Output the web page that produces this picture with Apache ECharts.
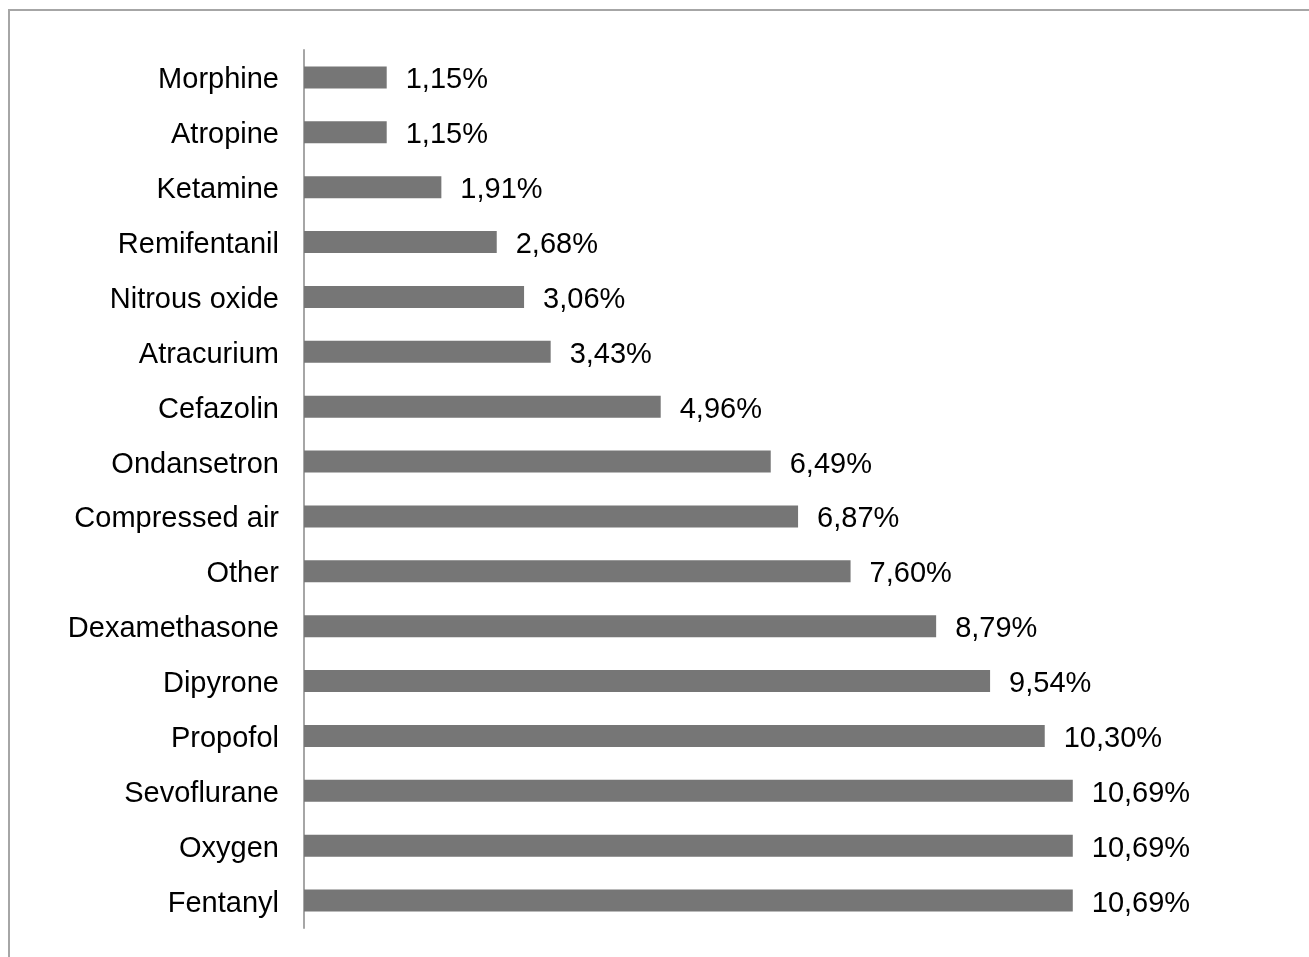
<!DOCTYPE html>
<html>
<head>
<meta charset="utf-8">
<script src="https://cdn.jsdelivr.net/npm/echarts@6/dist/echarts.min.js"></script>
<style>
    html, body { margin: 0; padding: 0; background: #fff; }
    #main { width: 1309px; height: 957px; }
</style>
</head>
<body>
<div id="main"></div>
<script>
    // categories listed from bottom to top
    var drugs = ['Fentanyl', 'Oxygen', 'Sevoflurane', 'Propofol', 'Dipyrone', 'Dexamethasone', 'Other',
        'Compressed air', 'Ondansetron', 'Cefazolin', 'Atracurium', 'Nitrous oxide', 'Remifentanil',
        'Ketamine', 'Atropine', 'Morphine'];
    var shares = [10.69, 10.69, 10.69, 10.30, 9.54, 8.79, 7.60, 6.87, 6.49, 4.96, 3.43, 3.06, 2.68, 1.91, 1.15, 1.15];

    var txt = {
        color: '#000',
        fontSize: 29,
        fontFamily: 'Liberation Sans, Arial, sans-serif',
        padding: [6, 0, 0, 0]
    };

    var myChart = echarts.init(document.getElementById('main'));
    var option = {
        animation: false,
        backgroundColor: '#fff',
        graphic: [{
            type: 'rect',
            shape: { x: 9, y: 10, width: 1400, height: 1000 },
            style: { fill: 'none', stroke: '#a6a6a6', lineWidth: 2 }
        }],
        grid: {
            left: 304,
            top: 50,
            width: 863,
            height: 878
        },
        xAxis: {
            type: 'value',
            min: 0,
            max: 12,
            show: false
        },
        yAxis: {
            type: 'category',
            data: drugs,
            axisLine: { show: true, lineStyle: { color: '#a6a6a6', width: 2 } },
            axisTick: { show: false },
            axisLabel: {
                margin: 25,
                formatter: function (v) { return '{t|' + v + '}'; },
                rich: { t: txt }
            }
        },
        series: [{
            type: 'bar',
            data: shares,
            barWidth: 22,
            itemStyle: { color: '#767676' },
            label: {
                show: true,
                position: 'right',
                distance: 19,
                formatter: function (p) {
                    return '{t|' + p.value.toFixed(2).replace('.', ',') + '%}';
                },
                rich: { t: txt }
            }
        }]
    };
    myChart.setOption(option);
</script>
</body>
</html>
